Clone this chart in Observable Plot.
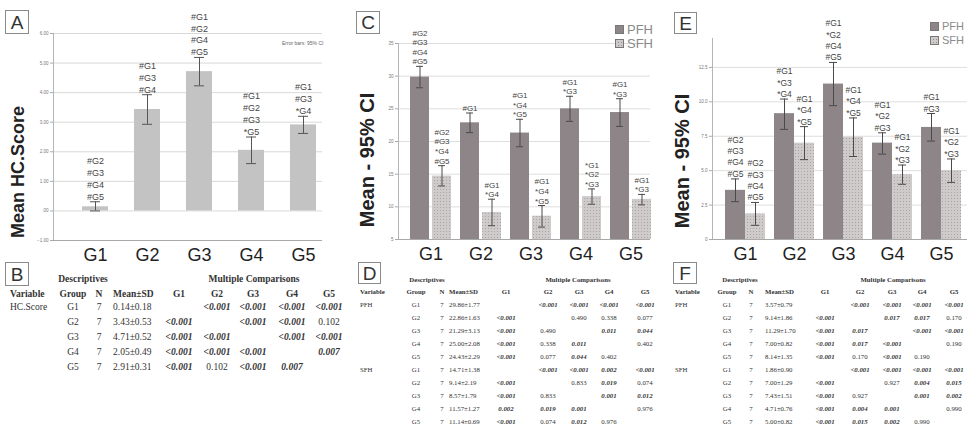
<!DOCTYPE html>
<html><head><meta charset="utf-8">
<script src="https://cdn.jsdelivr.net/npm/d3@7"></script>
<script src="https://cdn.jsdelivr.net/npm/@observablehq/plot@0.6"></script>
<style>
body{margin:0;background:#fff;width:967px;height:430px;overflow:hidden;position:relative;font-family:Arial,"Liberation Sans",sans-serif}
.pane{position:absolute;top:0}
.box{position:absolute;border:1.5px solid #8a8a8a;box-sizing:border-box;display:flex;align-items:center;justify-content:center;font-size:19px;color:#333;background:#fff;line-height:1}
.ytitle{position:absolute;transform:translate(-50%,-50%) rotate(-90deg);white-space:nowrap;font-weight:bold;color:#222}
.cell{position:absolute;white-space:nowrap;font-family:"Liberation Serif","DejaVu Serif",serif;color:#333;line-height:1}
.leg{position:absolute;color:#8a8a8a;white-space:nowrap;line-height:1}
</style></head><body>
<script>
// ---------- data ----------
const groups = ["G1","G2","G3","G4","G5"];
// Panel A : HC.Score
const hcMean = [0.14, 3.43, 4.71, 2.05, 2.91];
const hcLow  = [0.00, 2.93, 4.23, 1.60, 2.62];
const hcHigh = [0.31, 3.93, 5.19, 2.50, 3.20];
const hcSig  = [["#G2","#G3","#G4","#G5"],["#G1","#G3","#G4"],["#G1","#G2","#G4","#G5"],["#G1","#G2","#G3","*G5"],["#G1","#G3","*G4"]];
const hcTicks = [-1,0,1,2,3,4,5,6];
// Panel C
const cPfhMean = [29.86, 22.86, 21.29, 25.00, 24.43];
const cPfhLow  = [28.22, 21.36, 19.20, 23.08, 22.31];
const cPfhHigh = [31.50, 24.36, 23.40, 26.92, 26.55];
const cSfhMean = [14.71, 9.14, 8.57, 11.57, 11.14];
const cSfhLow  = [13.20, 7.11, 6.90, 10.40, 10.30];
const cSfhHigh = [16.30, 11.17, 10.20, 12.74, 11.90];
const cPfhSig = [["#G2","#G3","#G4","#G5"],["#G1"],["#G1","*G4","*G5"],["#G1","*G3"],["#G1","*G3"]];
const cSfhSig = [["#G2","#G3","*G4","#G5"],["#G1","*G4"],["#G1","*G4","*G5"],["*G1","*G2","*G3"],["#G1","*G3"]];
const cTicks = [5,10,15,20,25,30,35];
// Panel E
const ePfhMean = [3.57, 9.14, 11.29, 7.00, 8.14];
const ePfhLow  = [2.75, 8.00, 9.72, 6.20, 7.15];
const ePfhHigh = [4.40, 10.20, 12.86, 7.75, 9.15];
const eSfhMean = [1.86, 7.00, 7.43, 4.71, 5.00];
const eSfhLow  = [1.03, 5.80, 6.03, 4.01, 4.15];
const eSfhHigh = [2.69, 8.20, 8.83, 5.41, 5.85];
const ePfhSig = [["#G2","#G3","#G4","#G5"],["#G1","*G3","*G4"],["#G1","*G2","#G4","#G5"],["#G1","*G2","#G3"],["#G1","#G3"]];
const eSfhSig = [["#G2","#G3","#G4","#G5"],["#G1","*G4","*G5"],["#G1","*G4","*G5"],["#G1","*G2","*G3"],["#G1","*G2","*G3"]];
const eTicks = [0,2.5,5,7.5,10,12.5];
const series = ["PFH","SFH"];
// Tables
const colHeads = ["Variable","Group","N","Mean±SD","G1","G2","G3","G4","G5"];
const bVars = ["HC.Score"];
const bMeanSD = ["0.14±0.18","3.43±0.53","4.71±0.52","2.05±0.49","2.91±0.31"];
const bP = [[null,"<0.001","<0.001","<0.001","<0.001"],["<0.001",null,"<0.001","<0.001","0.102"],["<0.001","<0.001",null,"<0.001","<0.001"],["<0.001","<0.001","<0.001",null,"0.007"],["<0.001","0.102","<0.001","0.007",null]];
const dPfhMeanSD = ["29.86±1.77","22.86±1.63","21.29±3.13","25.00±2.08","24.43±2.29"];
const dSfhMeanSD = ["14.71±1.38","9.14±2.19","8.57±1.79","11.57±1.27","11.14±0.69"];
const dPfhP = [[null,"<0.001","<0.001","<0.001","<0.001"],["<0.001",null,"0.490","0.338","0.077"],["<0.001","0.490",null,"0.011","0.044"],["<0.001","0.338","0.011",null,"0.402"],["<0.001","0.077","0.044","0.402",null]];
const dSfhP = [[null,"<0.001","<0.001","0.002","<0.001"],["<0.001",null,"0.833","0.019","0.074"],["<0.001","0.833",null,"0.001","0.012"],["0.002","0.019","0.001",null,"0.976"],["<0.001","0.074","0.012","0.976",null]];
const fPfhMeanSD = ["3.57±0.79","9.14±1.86","11.29±1.70","7.00±0.82","8.14±1.35"];
const fSfhMeanSD = ["1.86±0.90","7.00±1.29","7.43±1.51","4.71±0.76","5.00±0.82"];
const fPfhP = [[null,"<0.001","<0.001","<0.001","<0.001"],["<0.001",null,"0.017","0.017","0.170"],["<0.001","0.017",null,"<0.001","<0.001"],["<0.001","0.017","<0.001",null,"0.190"],["<0.001","0.170","<0.001","0.190",null]];
const fSfhP = [[null,"<0.001","<0.001","<0.001","<0.001"],["<0.001",null,"0.927","0.004","0.015"],["<0.001","0.927",null,"0.001","0.002"],["<0.001","0.004","0.001",null,"0.990"],["<0.001","0.015","0.002","0.990",null]];

// ---------- helpers ----------
const PFH_COL = "#8d8587", A_COL = "#c3c3c3", TXT = "#444";
const FONT = "Arial, 'Liberation Sans', sans-serif";
function el(tag, cls, style, html){const e=document.createElement(tag); if(cls) e.className=cls; Object.assign(e.style, style||{}); if(html!=null) e.innerHTML=html; document.body.appendChild(e); return e;}
function addPattern(svg, id){
  const ns="http://www.w3.org/2000/svg"; const defs=document.createElementNS(ns,"defs");
  defs.innerHTML = `<pattern id="${id}" width="3" height="3" patternUnits="userSpaceOnUse"><rect width="3" height="3" fill="#cfcbcb"/><rect width="1" height="1" fill="#a9a4a5"/></pattern>`;
  svg.insertBefore(defs, svg.firstChild);
}
function rows(meanArr, lowArr, highArr, sigArr){
  return groups.map((g,i)=>({g, mean:meanArr[i], lo:lowArr[i], hi:highArr[i], sig:sigArr[i].join("\n")}));
}

// ---------- Panel A ----------
const dataA = rows(hcMean, hcLow, hcHigh, hcSig);
const plotA = Plot.plot({
  width:322, height:265, marginLeft:53, marginTop:33, marginBottom:25, marginRight:0,
  style:{background:"transparent", fontFamily:FONT, overflow:"visible"},
  x:{domain:groups, range:[69,329], paddingInner:0.5, paddingOuter:0.25, label:null},
  y:{domain:[-1,6], label:null},
  marks:[
    Plot.gridY(hcTicks, {stroke:"#d9d9d9", strokeOpacity:1}),
    Plot.frame({anchor:"left", stroke:"#b5b5b5"}),
    Plot.ruleY([hcTicks[0]], {stroke:"#a8a8a8"}),
    Plot.axisY(hcTicks, {tickSize:3, tickPadding:2, fontSize:4.5, fill:"#777", stroke:"#aaa", label:null, tickFormat:v=> v===0 ? ".00" : d3.format(".2f")(v)}),
    Plot.barY(dataA, {x:"g", y:"mean", fill:A_COL}),
    Plot.ruleX(dataA, {x:"g", y1:"lo", y2:"hi", stroke:"#555"}),
    Plot.tickY(dataA, {x:"g", y:"hi", stroke:"#555", insetLeft:8, insetRight:8}),
    Plot.tickY(dataA, {x:"g", y:"lo", stroke:"#555", insetLeft:8, insetRight:8}),
    Plot.text(dataA, {x:"g", y:"hi", text:"sig", lineAnchor:"bottom", dy:-2, fontSize:9, lineHeight:1.33, fill:TXT}),
    Plot.axisX({tickSize:0, tickPadding:8, fontSize:18, fill:"#222", label:null})
  ]
});
el("div","pane",{left:"0px"}).appendChild(plotA);

// ---------- Panels C and E ----------
function pairPlot(opts){
  const pfh = rows(opts.pm, opts.pl, opts.ph, opts.ps);
  const sfh = rows(opts.sm, opts.sl, opts.sh, opts.ss);
  const ins = opts.ins, cap = opts.cap, half = opts.half, base = opts.ticks[0];
  const svg = Plot.plot({
    width:opts.width, height:265, marginLeft:opts.ml, marginTop:opts.mt, marginBottom:26, marginRight:0,
    style:{background:"transparent", fontFamily:FONT, overflow:"visible"},
    x:{domain:groups, range:opts.range, paddingInner:opts.pi, paddingOuter:opts.po, label:null},
    y:{domain:opts.domain, label:null},
    marks:[
      Plot.gridY(opts.ticks, {stroke:"#dedede", strokeOpacity:1}),
      Plot.frame({anchor:"left", stroke:"#b5b5b5"}),
      Plot.ruleY([base], {stroke:"#a8a8a8"}),
      Plot.axisY(opts.ticks, {tickSize:3, tickPadding:2, fontSize:4.5, fill:"#777", stroke:"#aaa", label:null, tickFormat:opts.fmt}),
      Plot.barY(pfh, {x:"g", y1:()=>base, y2:"mean", insetRight:ins, fill:PFH_COL}),
      Plot.barY(sfh, {x:"g", y1:()=>base, y2:"mean", insetLeft:ins, fill:`url(#${opts.pid})`}),
      Plot.ruleX(pfh, {x:"g", y1:"lo", y2:"hi", dx:-half, stroke:"#4a4a4a"}),
      Plot.ruleX(sfh, {x:"g", y1:"lo", y2:"hi", dx:half, stroke:"#4a4a4a"}),
      Plot.tickY(pfh, {x:"g", y:"hi", insetLeft:cap[0], insetRight:cap[1], stroke:"#4a4a4a"}),
      Plot.tickY(pfh, {x:"g", y:"lo", insetLeft:cap[0], insetRight:cap[1], stroke:"#4a4a4a"}),
      Plot.tickY(sfh, {x:"g", y:"hi", insetLeft:cap[1], insetRight:cap[0], stroke:"#4a4a4a"}),
      Plot.tickY(sfh, {x:"g", y:"lo", insetLeft:cap[1], insetRight:cap[0], stroke:"#4a4a4a"}),
      Plot.text(pfh, {x:"g", y:"hi", text:"sig", dx:-half, lineAnchor:"bottom", dy:-2, fontSize:opts.fs, lineHeight:opts.lh, fill:TXT}),
      Plot.text(sfh, {x:"g", y:"hi", text:"sig", dx:half, lineAnchor:"bottom", dy:-2, fontSize:opts.fs, lineHeight:opts.lh, fill:TXT}),
      Plot.axisX({tickSize:0, tickPadding:8, fontSize:18, fill:"#222", label:null})
    ]
  });
  addPattern(svg, opts.pid);
  return svg;
}
const plotC = pairPlot({width:330, ml:78, mt:43, domain:[5,35], ticks:cTicks, fmt:d3.format("d"),
  range:[83.4,338.4], pi:0.176, po:0.088, ins:22, half:11, cap:[6,28], fs:8, lh:1.2, pid:"hatchC",
  pm:cPfhMean, pl:cPfhLow, ph:cPfhHigh, ps:cPfhSig, sm:cSfhMean, sl:cSfhLow, sh:cSfhHigh, ss:cSfhSig});
el("div","pane",{left:"320px"}).appendChild(plotC);

const plotE = pairPlot({width:322, ml:67, mt:38, domain:[0,14.6], ticks:eTicks, fmt:v=> v===0 ? "0" : v.toFixed(1),
  range:[74.3,321.8], pi:0.19, po:0.095, ins:20, half:10, cap:[6,26], fs:8.5, lh:1.35, pid:"hatchE",
  pm:ePfhMean, pl:ePfhLow, ph:ePfhHigh, ps:ePfhSig, sm:eSfhMean, sl:eSfhLow, sh:eSfhHigh, ss:eSfhSig});
el("div","pane",{left:"645px"}).appendChild(plotE);

// ---------- decorations ----------
function box(letter, x, y, w, h){ el("div","box",{left:x+"px",top:y+"px",width:w+"px",height:h+"px"}, letter); }
box("A",5,10,24,24); box("C",356,11,24,23); box("E",674,12,23,22);
box("B",5,262,24,24); box("D",358,262,23,22); box("F",673,262,24,22);
el("div","ytitle",{left:"18px",top:"172px",fontSize:"18px"},"Mean HC.Score");
el("div","ytitle",{left:"367px",top:"160px",fontSize:"20px"},"Mean - 95% CI");
el("div","ytitle",{left:"682px",top:"161px",fontSize:"20px"},"Mean - 95% CI");
el("div","",{position:"absolute",left:"282px",top:"40px",fontSize:"5px",color:"#666",whiteSpace:"nowrap"},"Error bars: 95% CI");
function legend(x, y, fs){
  series.forEach((s,i)=>{
    const fill = i===0 ? PFH_COL : "url(#hatchL"+x+")";
    el("div","leg",{left:x+"px",top:(y+i*14)+"px",fontSize:fs+"px"},
      `<svg width="9" height="9" style="vertical-align:middle;margin-right:3px"><defs><pattern id="hatchL${x}" width="3" height="3" patternUnits="userSpaceOnUse"><rect width="3" height="3" fill="#cfcbcb"/><rect width="1" height="1" fill="#8f8a8b"/></pattern></defs><rect x="0.5" y="0.5" width="8" height="8" fill="${fill}" stroke="#777"/></svg><span style="vertical-align:middle">${s}</span>`);
  });
}
legend(615,22,13); legend(930,20,11);

// ---------- tables ----------
function cell(x, y, text, o){
  return el("div","cell",{left:x+"px",top:y+"px",fontSize:o.fs+"px",fontWeight:o.b?"bold":"normal",fontStyle:o.i?"italic":"normal",
    transform: (o.c ? "translateX(-50%) " : "") + "translateY(-50%)"}, text);
}
function sig(p){ return p!=null && (p.startsWith("<") || parseFloat(p) < 0.05); }
function table(t){
  const fs = t.fs;
  cell(t.descX, t.h1, "Descriptives", {fs, b:1, c:1});
  cell(t.mcX, t.h1, "Multiple Comparisons", {fs, b:1, c:1});
  const hx = [t.varX, t.grpX, t.nX, t.meanX, ...t.pX];
  colHeads.forEach((h,j)=> cell(hx[j], t.h2, h, {fs, b:1, c: j!==0 && j!==3}));
  let r = 0;
  t.blocks.forEach(bk=>{
    groups.forEach((g,i)=>{
      const y = t.r0 + r*t.rs;
      if(i===0) cell(t.varX, y, bk.name, {fs});
      cell(t.grpX, y, g, {fs, c:1});
      cell(t.nX, y, "7", {fs, c:1});
      cell(t.meanX, y, bk.mean[i], {fs});
      bk.p[i].forEach((p,j)=>{ if(p!=null) cell(t.pX[j], y, p, {fs, b:sig(p), i:sig(p), c:1}); });
      r++;
    });
  });
}
table({fs:9.5, h1:280, h2:295, r0:308, rs:15, descX:83, mcX:254, varX:10, grpX:73, nX:99, meanX:113, pX:[179,217,253,292,329],
  blocks:[{name:bVars[0], mean:bMeanSD, p:bP}]});
table({fs:6.8, h1:280, h2:292, r0:305, rs:13.05, descX:427, mcX:578, varX:360, grpX:416, nX:442, meanX:449, pX:[506,548,579,609,645],
  blocks:[{name:"PFH", mean:dPfhMeanSD, p:dPfhP},{name:"SFH", mean:dSfhMeanSD, p:dSfhP}]});
table({fs:6.8, h1:280, h2:292, r0:305, rs:13.05, descX:740, mcX:893, varX:675, grpX:727, nX:751, meanX:765, pX:[825,860,892,922,954],
  blocks:[{name:"PFH", mean:fPfhMeanSD, p:fPfhP},{name:"SFH", mean:fSfhMeanSD, p:fSfhP}]});
</script>
</body></html>
